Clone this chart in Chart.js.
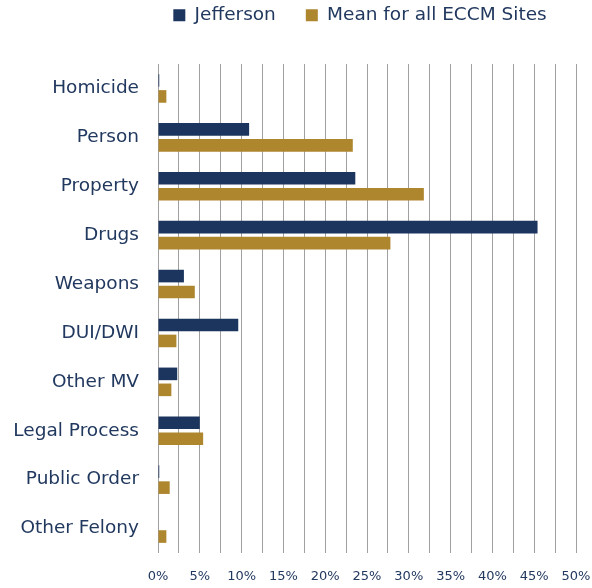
<!DOCTYPE html>
<html>
<head>
<meta charset="utf-8">
<script src="https://cdn.jsdelivr.net/npm/chart.js@4/dist/chart.umd.min.js"></script>
<style>
  html, body { margin: 0; padding: 0; background: #fff; }
  #wrap { width: 592px; height: 588px; position: relative; }
</style>
</head>
<body>
<div id="wrap"><canvas id="chart"></canvas></div>
<script>
const categories = ["Homicide", "Person", "Property", "Drugs", "Weapons", "DUI/DWI", "Other MV", "Legal Process", "Public Order", "Other Felony"];
const jefferson = [0.15, 10.9, 23.6, 45.4, 3.1, 9.6, 2.3, 5.0, 0.15, 0];
const eccmMean = [1.0, 23.3, 31.8, 27.8, 4.4, 2.2, 1.6, 5.4, 1.4, 1.0];

const navy = "#1c355e";
const gold = "#ae862e";
const textColor = "#22395f";
const font = "'DejaVu Sans', Verdana, sans-serif";

// legend: fixed height above the plot, nudged up and right
const legendPlace = {
  id: "legendPlace",
  beforeInit(chart) {
    const fit = chart.legend.fit;
    chart.legend.fit = function () {
      fit.bind(chart.legend)();
      this.height = 64;
    };
  },
  afterLayout(chart) {
    const lg = chart.legend;
    lg.top -= 24; lg.bottom -= 24;
    lg.left += 58; lg.right += 58;
  }
};

new Chart(document.getElementById("chart"), {
  type: "bar",
  data: {
    labels: categories,
    datasets: [
      { label: "Jefferson", data: jefferson, backgroundColor: navy, categoryPercentage: 0.653, barPercentage: 0.79 },
      { label: "Mean for all ECCM Sites", data: eccmMean, backgroundColor: gold, categoryPercentage: 0.653, barPercentage: 0.79 }
    ]
  },
  options: {
    indexAxis: "y",
    responsive: true,
    maintainAspectRatio: false,
    animation: false,
    layout: { padding: { left: 12, right: 0, top: 0, bottom: 0 } },
    plugins: {
      legend: {
        position: "top",
        labels: { color: textColor, font: { family: font, size: 18.5 }, boxWidth: 12, boxHeight: 12, padding: 30 }
      },
      tooltip: { enabled: false }
    },
    scales: {
      x: {
        min: 0,
        max: 50,
        afterFit: scale => { scale.height = 35; scale.paddingRight = 16; },
        ticks: {
          stepSize: 2.5,
          color: textColor,
          font: { family: font, size: 13 },
          padding: 16,
          maxRotation: 0,
          autoSkip: false,
          callback: v => (v % 5 === 0 ? v + "%" : "")
        },
        grid: { color: "#a0a0a0", lineWidth: 1, drawTicks: false },
        border: { display: false }
      },
      y: {
        afterFit: scale => { scale.width = 146; },
        ticks: { color: textColor, font: { family: font, size: 18.5 }, padding: 19 },
        grid: { display: false, drawTicks: false },
        border: { display: false }
      }
    }
  },
  plugins: [legendPlace]
});
</script>
</body>
</html>
